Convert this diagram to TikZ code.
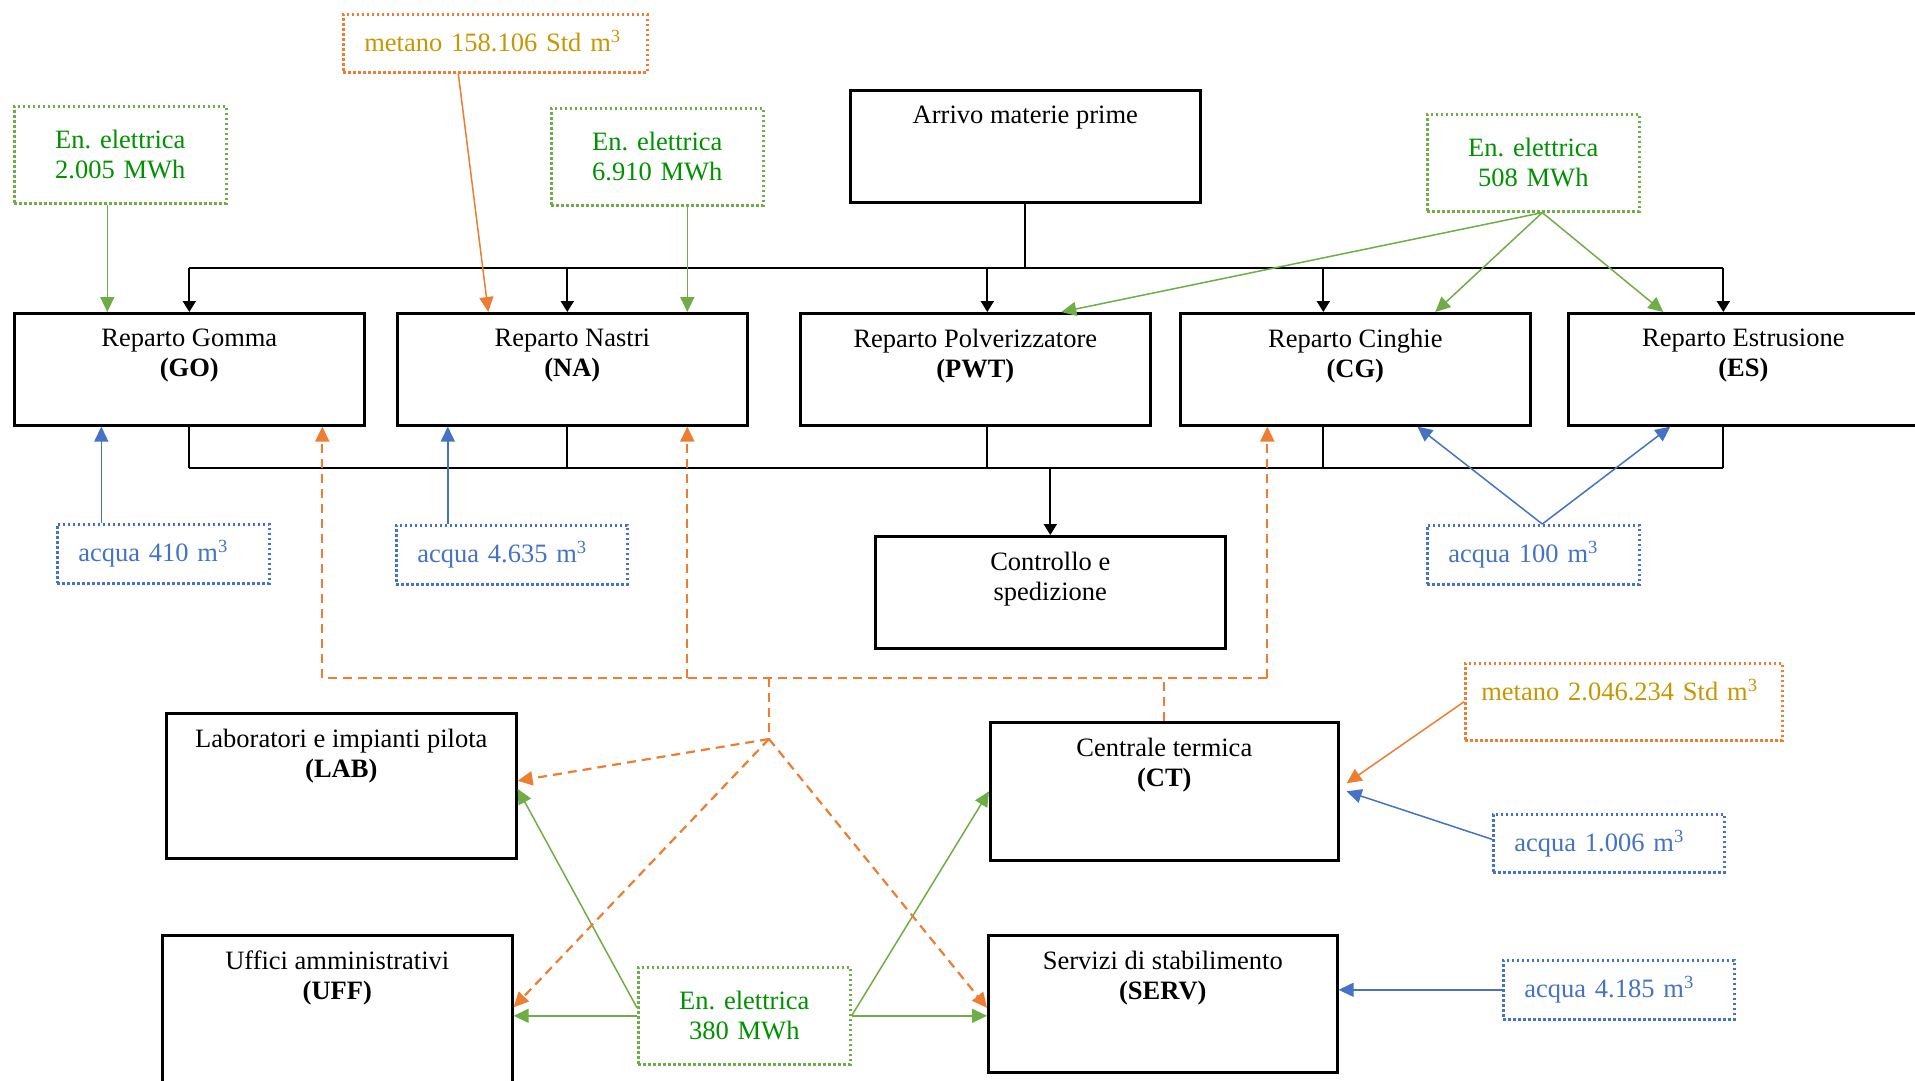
\documentclass[tikz,border=0pt]{standalone}
\usepackage{fontspec}
\setmainfont{Liberation Serif}
\usetikzlibrary{arrows.meta}
\frenchspacing

\definecolor{ogreen}{RGB}{112,173,71}
\definecolor{gtext}{RGB}{0,145,0}
\definecolor{oorange}{RGB}{237,125,49}
\definecolor{gold}{RGB}{200,150,0}
\definecolor{oblue}{RGB}{68,114,196}
\newcommand\testo{\fontsize{26.5}{30}\selectfont}

\begin{document}
\begin{tikzpicture}[x=1pt,y=-1pt]
  \tikzset{
    reparto/.style={draw, line width=2.6pt, minimum width=350pt, minimum height=112pt,
      anchor=north west, inner sep=0pt},
    boxtext/.style={anchor=north, align=center, inner sep=0pt, yshift=-17pt, font=\testo},
    fonte/.style={line width=2.6pt, dash pattern=on 2.6pt off 2.4pt, anchor=north west,
      inner xsep=21pt, inner ysep=0pt, font=\testo},
    elettr/.style={fonte, draw=ogreen, text=gtext, align=center, text width=170pt,
      minimum height=97pt},
    acqua/.style={fonte, draw=oblue, text=oblue, align=left, minimum height=59pt},
    metano/.style={fonte, draw=oorange, text=gold, align=left, minimum height=58pt},
    bus/.style={line width=2pt},
    flusso/.style={bus, -{Triangle[width=13pt,length=11pt]}},
    verde/.style={draw=ogreen, line width=1.5pt, -{Triangle[width=14pt,length=15pt]}},
    blu/.style={draw=oblue, line width=1.5pt, -{Triangle[width=14pt,length=15pt]}},
    arancio/.style={draw=oorange, line width=1.5pt, -{Triangle[width=14pt,length=15pt]}},
    tratt/.style={draw=oorange, line width=2.2pt, dash pattern=on 9pt off 6pt},
    tratteggio/.style={tratt, -{Triangle[width=14pt,length=15pt]}},
  }
  \useasboundingbox (0,0) rectangle (1915,1080);

  % reparti
  \node[reparto, label={[boxtext]north:Arrivo materie prime}] (arr) at (849,89) {};
  \node[reparto, label={[boxtext]north:Reparto Gomma\\\textbf{(GO)}}] (go) at (13,312) {};
  \node[reparto, label={[boxtext]north:Reparto Nastri\\\textbf{(NA)}}] (na) at (396,312) {};
  \node[reparto, label={[boxtext]north:Reparto Polverizzatore\\\textbf{(PWT)}}] (pwt) at (799,312) {};
  \node[reparto, label={[boxtext]north:Reparto Cinghie\\\textbf{(CG)}}] (cg) at (1179,312) {};
  \node[reparto, label={[boxtext]north:Reparto Estrusione\\\textbf{(ES)}}] (es) at (1567,312) {};
  \node[reparto, label={[boxtext]north:Controllo e\\spedizione}] (ctrl) at (874,535) {};
  \node[reparto, minimum height=145pt,
    label={[boxtext]north:Laboratori e impianti pilota\\\textbf{(LAB)}}] (lab) at (165,712) {};
  \node[reparto, minimum width=348pt, minimum height=138pt,
    label={[boxtext]north:Centrale termica\\\textbf{(CT)}}] (ct) at (989,721) {};
  \node[reparto, minimum height=160pt,
    label={[boxtext]north:Uffici amministrativi\\\textbf{(UFF)}}] (uff) at (161,934) {};
  \node[reparto, minimum width=349pt, minimum height=137pt,
    label={[boxtext]north:Servizi di stabilimento\\\textbf{(SERV)}}] (serv) at (987,934) {};

  % consumi
  \node[elettr] (el1) at (13,105) {En. elettrica\\2.005 MWh};
  \node[elettr] (el2) at (550,107) {En. elettrica\\6.910 MWh};
  \node[elettr] (el3) at (1426,113) {En. elettrica\\508 MWh};
  \node[elettr] (el4) at (637,966) {En. elettrica\\380 MWh};
  \node[metano, text width=262pt, text depth=5pt] (met1) at (342,13) {metano 158.106 Std m\textsuperscript{3}};
  \node[metano, inner xsep=16pt, text width=285pt, minimum height=77pt, text depth=23pt] (met2) at (1464,662)
    {metano 2.046.234 Std m\textsuperscript{3}};
  \node[acqua, text width=170pt] (aq1) at (56,523) {acqua 410 m\textsuperscript{3}};
  \node[acqua, text width=189pt] (aq2) at (395,524) {acqua 4.635 m\textsuperscript{3}};
  \node[acqua, text width=170pt] (aq3) at (1426,524) {acqua 100 m\textsuperscript{3}};
  \node[acqua, text width=189pt, minimum height=58pt] (aq4) at (1492,813) {acqua 1.006 m\textsuperscript{3}};
  \node[acqua, text width=189pt] (aq5) at (1502,959) {acqua 4.185 m\textsuperscript{3}};

  % flusso materiali
  \coordinate (bsup) at (1024,268);
  \coordinate (binf) at (1049,468);
  \draw[bus] (arr.south) -- (arr.south |- bsup);
  \draw[bus] (go.north |- bsup) -- ([xshift=-20pt]es.north |- bsup);
  \foreach \n/\dx in {go/0, na/-5, pwt/12, cg/-32, es/-20}
    \draw[flusso] ([xshift=\dx pt]\n.north |- bsup) -- ([xshift=\dx pt]\n.north);
  \foreach \n/\dx in {go/0, na/-5, pwt/12, cg/-32, es/-20}
    \draw[bus] ([xshift=\dx pt]\n.south) -- ([xshift=\dx pt]\n.south |- binf);
  \draw[bus] (go.south |- binf) -- ([xshift=-20pt]es.south |- binf);
  \draw[flusso] (ctrl.north |- binf) -- (ctrl.north);

  % energia elettrica
  \draw[verde] ([xshift=-13pt]el1.south) -- ([xshift=-13pt]el1.south |- go.north);
  \draw[verde] ([xshift=30pt]el2.south) -- ([xshift=30pt]el2.south |- na.north);
  \coordinate (e3) at ([xshift=9pt]el3.south);
  \draw[verde] (e3) -- ([xshift=86pt]pwt.north);
  \draw[verde] (e3) -- ([xshift=80pt]cg.north);
  \draw[verde] (e3) -- ([xshift=-80pt]es.north);
  \draw[verde] ([yshift=8pt]el4.west) -- ([yshift=-3pt]lab.east);
  \draw[verde] (el4.west) -- (el4.west -| uff.east);
  \draw[verde] (el4.east) -- (ct.west);
  \draw[verde] (el4.east) -- (el4.east -| serv.west);

  % acqua
  \draw[blu] ([xshift=-62pt]aq1.north) -- ([xshift=-62pt]aq1.north |- go.south);
  \draw[blu] ([xshift=-64pt]aq2.north) -- ([xshift=-64pt]aq2.north |- na.south);
  \coordinate (a3) at ([xshift=9pt]aq3.north);
  \draw[blu] (a3) -- ([xshift=62pt]cg.south);
  \draw[blu] (a3) -- ([xshift=-73pt]es.south);
  \draw[blu] ([yshift=4pt]aq4.west) -- ([xshift=7pt]ct.east);
  \draw[blu] (aq5.west) -- (aq5.west -| serv.east);

  % metano
  \draw[arancio] ([xshift=-37pt]met1.south) -- ([xshift=-84pt]na.north);
  \draw[arancio] (met2.west) -- ([xshift=7pt,yshift=8pt]ct.east);

  % vapore dalla centrale termica
  \coordinate (nodo) at (769,678);
  \coordinate (hub) at (769,739);
  \draw[tratt] (ct.north) -- (ct.north |- nodo);
  \draw[tratt] ([xshift=-88pt]cg.south |- nodo) -- ([xshift=133pt]go.south |- nodo);
  \foreach \n/\dx in {go/133, na/115, cg/-88}
    \draw[tratteggio] ([xshift=\dx pt]\n.south |- nodo) -- ([xshift=\dx pt]\n.south);
  \draw[tratt] (nodo) -- (hub);
  \draw[tratteggio] (hub) -- ([yshift=5pt]lab.east);
  \draw[tratteggio] (hub) -- ([yshift=8pt]uff.east);
  \draw[tratteggio] (hub) -- ([yshift=-4pt]serv.west);
\end{tikzpicture}
\end{document}
